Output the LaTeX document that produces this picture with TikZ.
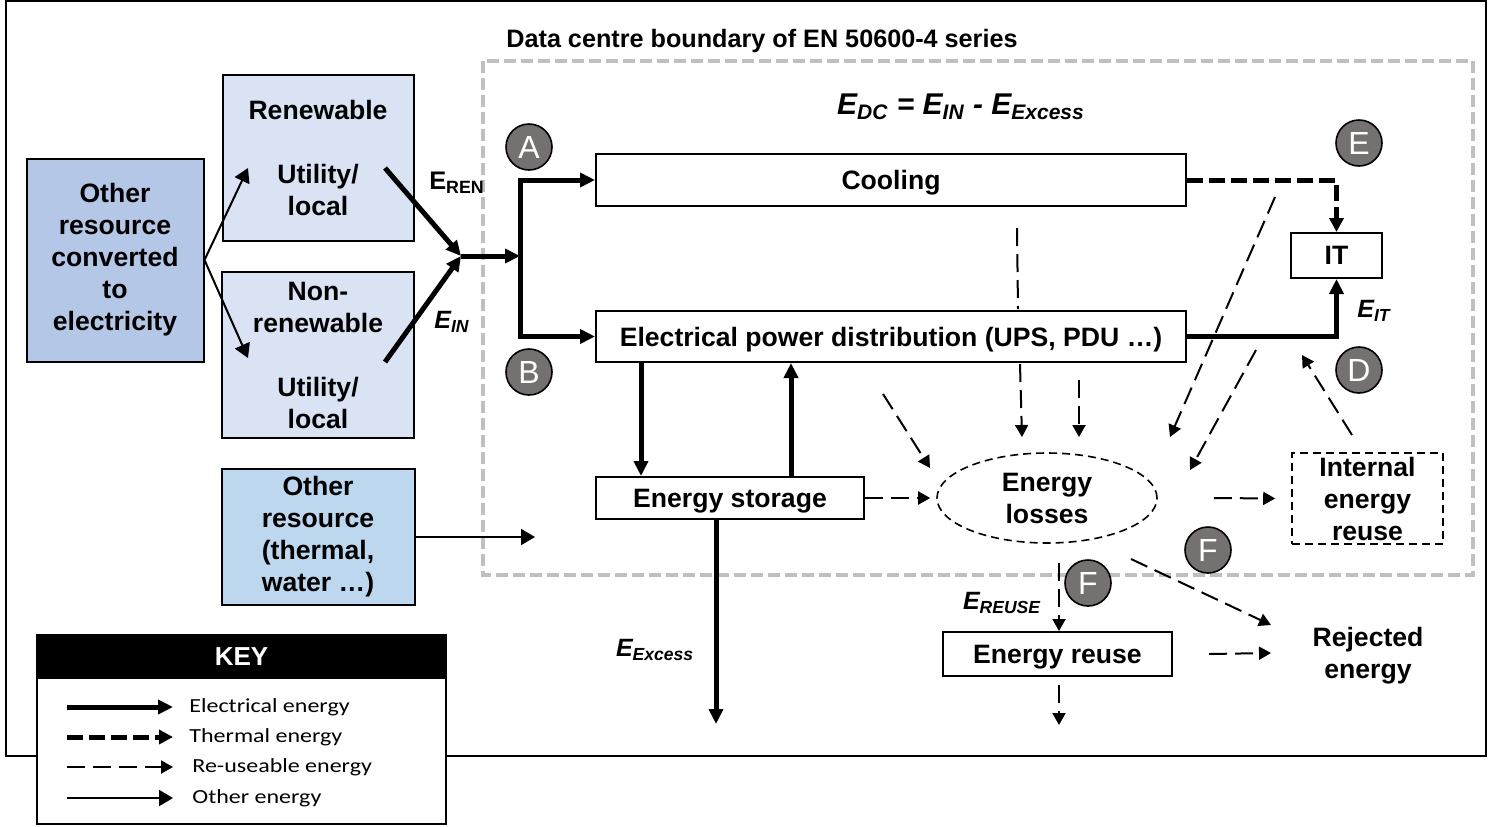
\documentclass[tikz,border=0pt]{standalone}
\usepackage{fontspec}
\setmainfont{Liberation Sans}
\newfontfamily\keyfont[FakeStretch=1.2]{Carlito}
\usepackage{xcolor}
\usepackage{tikz}
\usetikzlibrary{arrows.meta,positioning,calc,shapes.geometric}

\definecolor{srcblue}{RGB}{180,199,231}
\definecolor{srcpale}{RGB}{218,227,243}
\definecolor{srcsky}{RGB}{189,215,238}
\definecolor{markgray}{RGB}{118,113,113}
\definecolor{bndgray}{RGB}{192,192,192}

\begin{document}
\begin{tikzpicture}[x=0.5pt, y=-0.5pt, node distance=6mm,
  box/.style={draw, line width=1pt, align=center, inner sep=0pt, font=\bfseries\fontsize{13.3}{16}\selectfont},
  oneline/.style={text depth=0pt},
  lettermark/.style={circle, draw, line width=0.8pt, fill=markgray, text=white, minimum size=23pt, inner sep=0pt, font=\fontsize{16}{16}\selectfont},
  sym/.style={inner sep=0pt, font=\bfseries\itshape\fontsize{12.5}{13}\selectfont},
  elec/.style={line width=2.5pt, -{Triangle[length=7.5pt,width=7pt]}},
  therm/.style={line width=2.5pt, dash pattern=on 8pt off 3pt, -{Triangle[length=7pt,width=7pt]}},
  reuse/.style={line width=1pt, dash pattern=on 9pt off 4pt, -{Triangle[length=6pt,width=6.5pt]}},
  othr/.style={line width=1pt, -{Triangle[length=7pt,width=8pt]}}]
\useasboundingbox (0,0) rectangle (1489,826);
\draw[line width=1pt] (6,1) rectangle (1486,756);
% data centre boundary
\draw[bndgray, line width=2pt, dash pattern=on 6pt off 2.5pt] (483,61) rectangle (1473,575);
\node[anchor=west, inner sep=0pt, font=\bfseries\fontsize{12.6}{14}\selectfont] (dctitle) at (506,41) {Data centre boundary of EN 50600-4 series};
\node[font=\bfseries\itshape\fontsize{15}{17}\selectfont] (edc) at (961,107) {E\textsubscript{DC} = E\textsubscript{IN} - E\textsubscript{Excess}};

% sources
\node[box, fill=srcblue, minimum width=88.5pt, minimum height=101.5pt] (conv) at (115,260) {Other\\resource\\converted\\to\\electricity};
\node[box, fill=srcpale, minimum width=95.5pt, minimum height=83pt] (ren) at (318,158) {Renewable\\[16pt]Utility/\\local};
\node[box, fill=srcpale, minimum width=96pt, minimum height=83pt] (nonren) at (318,355) {Non-\\renewable\\[16pt]Utility/\\local};
\node[box, fill=srcsky, minimum width=96.5pt, minimum height=68pt] (othres) at (318,537) {Other\\resource\\(thermal,\\water …)};

% data centre
\node[box, oneline, minimum width=295pt, minimum height=26pt] (cool) at (891,180) {Cooling};
\node[box, oneline, fill=white, minimum width=295pt, minimum height=25.5pt] (elec) at (891,336.5) {Electrical power distribution (UPS, PDU …)};
\node[box, oneline, minimum width=45.5pt, minimum height=22.5pt] (it) at (1336.5,255.5) {IT};
\node[box, oneline, minimum width=134pt, minimum height=21pt] (stor) at (730,498) {Energy storage};
\node[box, ellipse, line width=0.8pt, dash pattern=on 4pt off 2.5pt, minimum width=110pt, minimum height=45pt] (loss) at (1047,498) {Energy\\losses};
\node[box, line width=0.8pt, dash pattern=on 4pt off 2.5pt, minimum width=75.5pt, minimum height=45.5pt] (intre) at (1367.5,498.5) {Internal\\energy\\reuse};
\node[box, oneline, minimum width=114.5pt, minimum height=22pt] (reusebox) at (1057.5,654) {Energy reuse};
\node[box, draw=none] (rej) at (1368,656) {Rejected\\energy};

\node[lettermark] (ma) at (529,147) {A};
\node[lettermark] (mb) at (529,372) {B};
\node[lettermark] (me) at (1359,143) {E};
\node[lettermark] (md) at (1359,370) {D};
\node[lettermark] (mf) at (1208,550) {F};
\node[lettermark] (mf2) at (1088,583) {F};

\node[inner sep=0pt, font=\bfseries\fontsize{12.7}{13}\selectfont] (eren) at (457,183) {E\textsubscript{REN}};
\node[sym] (ein) at (452,322) {E\textsubscript{IN}};
\node[sym] (eit) at (1374,311) {E\textsubscript{IT}};
\node[sym] (eexc) at (655,650) {E\textsubscript{Excess}};
\node[sym] (eru) at (1002,603) {E\textsubscript{REUSE}};

% free ends
\coordinate (renin) at (248,168);
\coordinate (nonin) at (248,358);
\coordinate (renout) at (385,168);
\coordinate (nonout) at (385,362);
\coordinate (jn) at (461,256);
\coordinate (bus) at (520,256);
\coordinate (excess) at (716,724);
\coordinate (dcin) at (535,537);
\coordinate (rejin) at (1271,653);

\draw[othr] (conv.east) -- (renin);
\draw[othr] (conv.east) -- (nonin);
\draw[elec] (renout) -- (jn);
\draw[elec] (nonout) -- (jn);
\draw[elec] (jn) -- (bus);
\draw[elec] (bus) |- (cool.west);
\draw[elec] (bus) |- (elec.west);
\draw[elec] (elec.east) -| (it.south);
\draw[therm] (cool.east) -| (it.north);
\draw[elec] ($(elec.south west)+(46,0)$) -- ($(stor.north west)+(46,0)$);
\draw[elec] ($(stor.north west)+(196,0)$) -- ($(elec.south west)+(196,0)$);
\draw[elec] (stor.south -| excess) -- (excess);
\draw[othr] (othres.east) -- (dcin);

% re-useable energy
\draw[reuse] (stor.east) -- ([xshift=-3pt]loss.west);
\draw[reuse] (883,394) -- (930,468);
\draw[reuse, -] (1017,228) -- (1018,309);
\draw[reuse] (1020,364) -- (1022,437);
\draw[reuse] (1079,380) -- (1079,437);
\draw[reuse] (1275,197) -- (1170,437);
\draw[reuse] (1256,350) -- (1190,470);
\draw[reuse] ([xshift=28pt]loss.east) -- ([xshift=-8pt]intre.west);
\draw[reuse] (1352,435) -- (1302,355);
\draw[reuse] (1131,559) -- (1271,625);
\draw[reuse] (1059,563) -- (reusebox.north -| 1059,0);
\draw[reuse] ([xshift=18pt]reusebox.east) -- (rejin);
\draw[reuse] (1059,685) -- (1059,725);

% key
\node[draw, line width=1pt, fill=white, minimum width=204.5pt, minimum height=94.5pt, anchor=north west, inner sep=0pt] (key) at (36,634) {};
\node[fill=black, text=white, anchor=north, minimum width=204.5pt, minimum height=22.5pt, inner sep=0pt, font=\bfseries\fontsize{13}{14}\selectfont] (keyhead) at (key.north) {KEY};
\foreach \sty/\yy/\tx/\lbl in {elec/707/189/Electrical energy, therm/737/189/Thermal energy, reuse/767/192/Re-useable energy, othr/798/192/Other energy} {
  \draw[\sty] (67,\yy) -- (173,\yy);
  \node[anchor=west, inner sep=0pt, font=\keyfont\fontsize{10}{11}\selectfont] at (\tx,\yy) {\lbl};
}
\end{tikzpicture}
\end{document}
